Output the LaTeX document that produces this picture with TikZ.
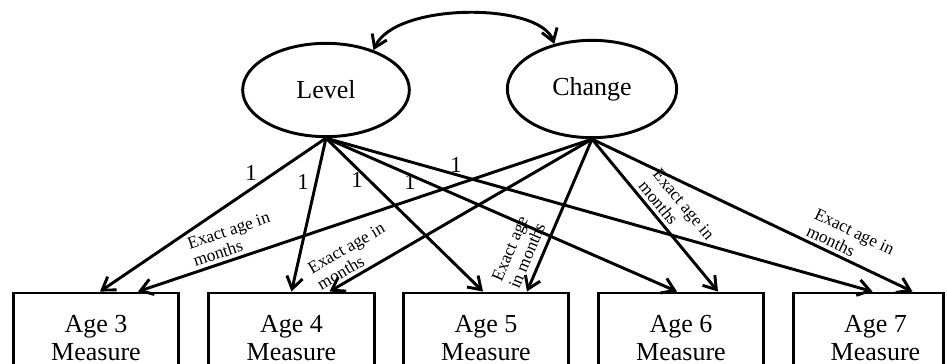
\documentclass[tikz,border=0pt]{standalone}
\usepackage{fontspec}
\setmainfont{Liberation Serif}
\usetikzlibrary{shapes.geometric,arrows.meta,calc}

\begin{document}
\begin{tikzpicture}[x=0.75pt,y=-0.75pt,line width=2.2pt,
    >={Straight Barb[length=9pt,width=12pt]},
    latent/.style={draw,ellipse,minimum width=125pt,minimum height=70pt,font=\fontsize{19.5}{22}\selectfont},
    measure/.style={draw,rectangle,minimum width=124pt,minimum height=67.5pt,align=center,font=\fontsize{19.5}{20.5}\selectfont},
    agelab/.style={sloped,above,align=left,inner sep=2.5pt,font=\fontsize{13}{14}\selectfont},
    onelab/.style={font=\fontsize{17}{17}\selectfont}]
                \useasboundingbox (0,0) rectangle (947,364);
                \clip (0,0) rectangle (947,364);

                % latent factors
                \node[latent] (lv) at (326,90) {Level};
                \node[latent,minimum width=127pt,minimum height=73pt] (ch) at (592,89) {Change};
                \draw[<->] (lv.40) .. controls (395,2) and (540,2) .. (ch.130);

                % measures
                \node[measure] (m3) at (96,338) {Age 3\\Measure};
                \node[measure] (m4) at (291.5,338) {Age 4\\Measure};
                \node[measure] (m5) at (486,338) {Age 5\\Measure};
                \node[measure] (m6) at (681,338) {Age 6\\Measure};
                \node[measure,minimum width=113pt] (m7) at (868.5,338) {\hspace*{10.5pt}Age 7\\\hspace*{10.5pt}Measure};

                % level loadings
                \draw[->] (lv.south) -- ($(m3.north)+(4,0)$);
                \draw[->] (lv.south) -- (m4.north);
                \draw[->] (lv.south) -- ($(m5.north)+(-3,0)$);
                \draw[->] (lv.south) -- ($(m6.north)+(-4,0)$);
                \draw[->] (lv.south) -- ($(m7.north)+(4,0)$);
                \node[onelab] (one3) at (251,173) {1};
                \node[onelab] (one4) at (303,182) {1};
                \node[onelab] (one5) at (357,180) {1};
                \node[onelab] (one6) at (410,182) {1};
                \node[onelab] (one7) at (456,165) {1};

                % change loadings
                \draw[->] (ch.south) -- ($(m3.north)+(42,0)$) node[agelab,pos=0.78] (age3) {Exact age in\\months};
                \draw[->] (ch.south) -- ($(m4.north)+(38,0)$) node[agelab,pos=0.88] (age4) {Exact age in\\months};
                \draw[->] (ch.south) -- ($(m5.north)+(41,0)$) node[agelab,pos=0.80,inner sep=5pt] (age5) {Exact age\\in months};
                \draw[->] (ch.south) -- ($(m6.north)+(37,0)$) node[agelab,pos=0.55] (age6) {Exact age in\\months};
                \draw[->] (ch.south) -- ($(m7.north)+(44,0)$) node[agelab,pos=0.78] (age7) {Exact age in\\months};
            \end{tikzpicture}
\end{document}
